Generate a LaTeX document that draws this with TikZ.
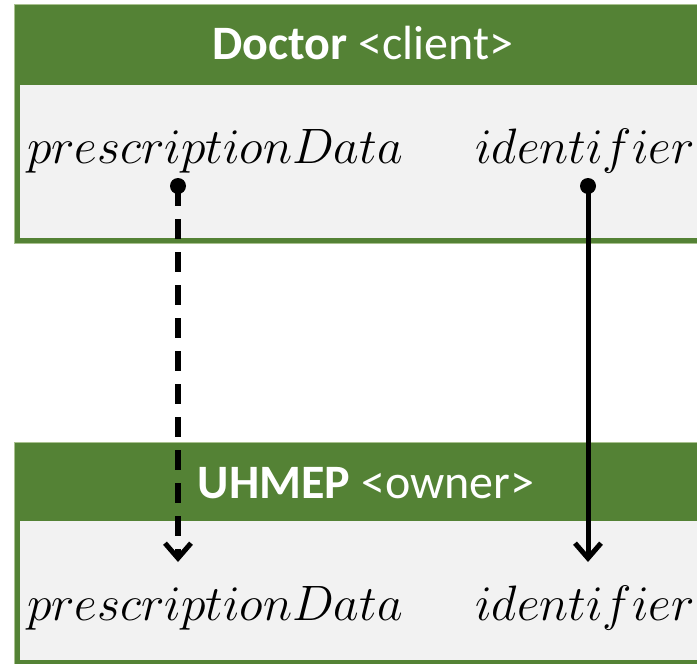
\documentclass[tikz,border=0pt]{standalone}
\usepackage{fontspec}
\setmainfont{Carlito}
\usepackage{xcolor}
\usepackage{tikz}
\usetikzlibrary{arrows.meta, positioning}
\definecolor{umlgreen}{HTML}{548235}
\definecolor{umlbody}{HTML}{F2F2F2}
\definecolor{umledge}{HTML}{A9C18F}

\begin{document}
\begin{tikzpicture}[x=0.5pt, y=-0.5pt,
  header/.style={fill=umlgreen, draw=umledge, line width=0.4pt},
  body/.style={fill=umlbody, draw=none},
  title/.style={anchor=base, text=white, font=\fontsize{24}{28}\selectfont, inner sep=0pt},
  attr/.style={anchor=base, font=\fontsize{26.4}{30}\selectfont, inner sep=0pt},
  pin/.style={circle, fill=black, inner sep=0pt, minimum size=8pt},
  flow/.style={-{Straight Barb[length=7.5pt, width=13pt, line width=2.5pt]}, line width=2.5pt},
  dataflow/.style={flow, line width=3pt, dash pattern=on 10pt off 6.5pt}
]
\useasboundingbox (0,0) rectangle (697,664);
\begin{scope}
\clip (0,0) rectangle (697,664);
% Doctor <client>
\fill[header] (14,4) rectangle (720,243);
\fill[body] (20,85) rectangle (720,238);
% UHMEP <owner>
\fill[header] (14,442) rectangle (720,680);
\fill[body] (20,521) rectangle (720,660);
\end{scope}

\node[title] (doctor) at (363,60) {\textbf{Doctor} <client>};
\node[title] (uhmep) at (366,498) {\textbf{UHMEP} <owner>};

\node[attr] (docData) at (215,163) {$prescriptionData$};
\node[attr] (docId) at (585,163) {$identifier$};
\node[attr] (ownData) at (215,620) {$prescriptionData$};
\node[attr] (ownId) at (585,620) {$identifier$};

\node[pin] (docDataPin) at (178,186) {};
\node[pin] (docIdPin) at (588,186) {};
\coordinate (ownDataIn) at (178,562);
\coordinate (ownIdIn) at (588,562);

\draw[dataflow] (docDataPin.center) -- (ownDataIn);
\draw[flow] (docIdPin.center) -- (ownIdIn);
\end{tikzpicture}
\end{document}
